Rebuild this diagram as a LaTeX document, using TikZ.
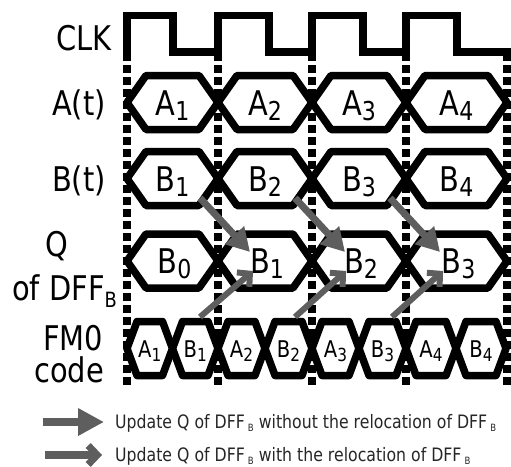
\documentclass[tikz,border=0pt]{standalone}
\usepackage{fontspec}
\setmainfont{DejaVu Sans}[FakeStretch=0.85]
\usetikzlibrary{arrows.meta}
\definecolor{arrowgray}{HTML}{5E5E5E}

% subscripts of the waveform labels
\newcommand\bigsub[2]{#1\raisebox{-5pt}{\fontsize{26}{26}\selectfont #2}}
\newcommand\smallsub[2]{#1\raisebox{-4pt}{\fontsize{18}{18}\selectfont #2}}
\newcommand\legsub{\,\raisebox{-3pt}{\fontsize{10}{10}\selectfont B}}

% one data-valid hexagon: left tip x, right tip x, centre y, half height, slant
\newcommand\hexcell[5]{%
  \draw[sig] (#1,#3) -- (#1+#5,#3-#4) -- (#2-#5,#3-#4) -- (#2,#3)
             -- (#2-#5,#3+#4) -- (#1+#5,#3+#4) -- cycle;}

\begin{document}
\begin{tikzpicture}[x=1pt,y=-1pt,
  sig/.style={line width=7.5pt,line join=round,draw=black},
  clkline/.style={line width=7.5pt,line join=miter},
  guide/.style={line width=8pt,dash pattern=on 8pt off 4pt},
  lbl/.style={font=\fontsize{34}{34}\selectfont,inner sep=0pt,anchor=base},
  cell/.style={font=\fontsize{34}{34}\selectfont,inner sep=0pt,anchor=base},
  smallcell/.style={font=\fontsize{23}{23}\selectfont,inner sep=0pt,anchor=base},
  legtext/.style={font=\fontsize{18.5}{18.5}\selectfont,inner sep=0pt,anchor=base west,text=black!85},
  plainupd/.style={draw=arrowgray,line width=7pt,-{Triangle[length=23pt,width=25pt]}},
  relocupd/.style={draw=arrowgray,line width=6pt,-{Straight Barb[length=9pt,width=19pt,line width=6pt]}},
]
\useasboundingbox (0,0) rectangle (511,466);

% clock period boundaries
\foreach \gx in {127,218,312,406,507}
  \draw[guide] (\gx,53) -- (\gx,387);

% clock
\draw[clkline] (127,53) -- (127,15.5) -- (173,15.5) -- (173,52) -- (218,52)
  -- (218,15.5) -- (269,15.5) -- (269,52) -- (312,52)
  -- (312,15.5) -- (363,15.5) -- (363,52) -- (406,52)
  -- (406,15.5) -- (457,15.5) -- (457,52) -- (507,52) -- (507,56);

% row labels
\node[lbl] (lclk) at (84,50.5) {CLK};
\node[lbl] (la) at (79,115) {A(t)};
\node[lbl] (lb) at (79,191) {B(t)};
\node[lbl] (lq) at (57,256) {Q};
\node[lbl,anchor=base west] (ldff) at (12,300) {of DFF\raisebox{-7pt}{\fontsize{21}{21}\selectfont B}};
\node[lbl] (lfm) at (73,350) {FM0};
\node[lbl] (lcode) at (69,382) {code};

% A(t), B(t) and Q rows
\foreach \xa/\xb/\n in {127/218/1,218/312/2,312/406/3,406/507/4}{
  \hexcell{\xa}{\xb}{102.5}{27}{19}
  \node[cell] (a\n) at ({(\xa+\xb)/2},115) {\bigsub{A}{\n}};
  \hexcell{\xa}{\xb}{178.5}{27}{19}
  \node[cell] (b\n) at ({(\xa+\xb)/2},191) {\bigsub{B}{\n}};
}
\foreach \xa/\xb/\n in {127/218/0,218/312/1,312/406/2,406/507/3}{
  \hexcell{\xa}{\xb}{261}{27}{19}
  \node[cell] (q\n) at ({(\xa+\xb)/2+2},273.5) {\bigsub{B}{\n}};
}

% FM0 code row: two half-period cells per clock cycle
\foreach \xa/\xm/\xb/\n in {127/172.5/218/1,218/265/312/2,312/359/406/3,406/456/506/4}{
  \hexcell{\xa}{\xm}{348.5}{27}{10}
  \hexcell{\xm}{\xb}{348.5}{27}{10}
  \node[smallcell] (fa\n) at ({(\xa+\xm)/2},357) {\smallsub{A}{\n}};
  \node[smallcell] (fb\n) at ({(\xm+\xb)/2},357) {\smallsub{B}{\n}};
}

% update arrows into Q of DFF_B
\foreach \k/\sx/\tx in {1/200/250,2/295/345,3/390/440}{
  \coordinate (bs\k) at (\sx,198);
  \coordinate (qt\k) at (\tx,252);
  \draw[plainupd] (bs\k) -- (qt\k);
}
\foreach \k/\sx/\tx in {1/200/253,2/295/346,3/392/443}{
  \coordinate (fs\k) at (\sx,317);
  \coordinate (qr\k) at (\tx,271);
  \draw[relocupd] (fs\k) -- (qr\k);
}

% legend
\coordinate (k1a) at (43,422);
\coordinate (k1b) at (104,422);
\coordinate (k2a) at (45,455);
\coordinate (k2b) at (102,455);
\draw[draw=arrowgray,line width=8pt,-{Triangle[length=26pt,width=26pt]}] (k1a) -- (k1b);
\draw[draw=arrowgray,line width=7.5pt,-{Straight Barb[length=9pt,width=19pt,line width=7pt]}] (k2a) -- (k2b);
\node[legtext] (leg1) at (115,428) {Update Q of DFF\legsub{} without the relocation of DFF\legsub};
\node[legtext] (leg2) at (115,461) {Update Q of DFF\legsub{} with the relocation of DFF\legsub};
\end{tikzpicture}
\end{document}
